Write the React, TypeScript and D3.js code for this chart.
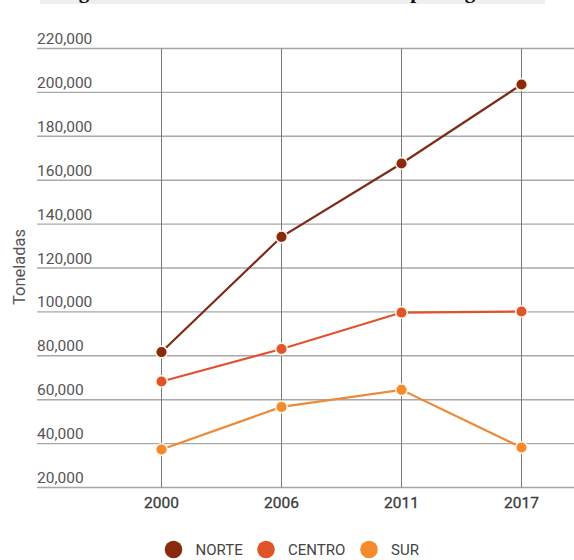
import React from "react";
import * as d3 from "d3";

const years = ["2000", "2006", "2011", "2017"];
const norte = [81700, 134200, 167600, 203600];
const centro = [68300, 83100, 99700, 100200];
const sur = [37300, 56700, 64500, 38200];
const seriesNames = ["NORTE", "CENTRO", "SUR"];
const yTicks = [20000, 40000, 60000, 80000, 100000, 120000, 140000, 160000, 180000, 200000, 220000];
const titleText = "Figura 1. Producción de cosecha anual por región";

const W = 574;
const H = 560;

export default function App() {
  const x = d3.scalePoint<string>().domain(years).range([161.5, 521.5]);
  const y = d3.scaleLinear().domain([20000, 220000]).range([487.5, 48.5]);
  const colors = ["#8a2a0c", "#e0542a", "#f38a2c"];
  const lineColors = ["#7d2b17", "#e2512c", "#ec8a38"];
  const data = [norte, centro, sur];
  const line = d3
    .line<number>()
    .x((_, i) => x(years[i]) as number)
    .y((d) => y(d));
  const fmt = d3.format(",");
  const font = "Roboto, 'Noto Sans', sans-serif";
  const legendX = [173.5, 266, 369];

  return (
    <svg
      width={W}
      height={H}
      style={{ position: "absolute", left: 0, top: 0, background: "#fff" }}
    >
      <rect x={40} y={0} width={505} height={4} fill="#efefef" />
      <text
        x={60}
        y={-2.5}
        fontFamily="'Liberation Serif', 'DejaVu Serif', serif"
        fontWeight="bold"
        fontSize={21}
        fill="#111"
      >
        {titleText}
      </text>

      {yTicks.map((t) => (
        <g key={t}>
          <line x1={37} x2={W} y1={y(t)} y2={y(t)} stroke="#a8a8a8" strokeWidth={1.4} />
          <text x={37} y={y(t) - 4.5} fontFamily={font} fontSize={15.5} fill="#555">
            {fmt(t)}
          </text>
        </g>
      ))}
      {years.map((yr) => (
        <g key={yr}>
          <line
            x1={x(yr)}
            x2={x(yr)}
            y1={y(220000)}
            y2={y(20000)}
            stroke="#7a7a7a"
            strokeWidth={1}
          />
          <text
            x={x(yr)}
            y={508}
            textAnchor="middle"
            fontFamily={font}
            fontSize={15.5}
            fill="#3a3a3a"
            stroke="#3a3a3a"
            strokeWidth={0.3}
          >
            {yr}
          </text>
        </g>
      ))}

      <text
        transform={`translate(25,267) rotate(-90)`}
        textAnchor="middle"
        fontFamily={font}
        fontSize={16.5}
        fill="#555"
      >
        Toneladas
      </text>

      {data.map((s, si) => (
        <g key={si}>
          <path d={line(s) || ""} fill="none" stroke={lineColors[si]} strokeWidth={2.2} />
          {s.map((v, i) => (
            <circle
              key={i}
              cx={x(years[i])}
              cy={y(v)}
              r={5.8}
              fill={colors[si]}
              stroke="#fff6ea"
              strokeWidth={1.5}
            />
          ))}
        </g>
      ))}

      {seriesNames.map((n, i) => (
        <g key={n}>
          <circle cx={legendX[i]} cy={549.5} r={8.8} fill={colors[i]} />
          <text
            x={legendX[i] + 22}
            y={555}
            fontFamily={font}
            fontSize={15}
            fill="#444"
          >
            {n}
          </text>
        </g>
      ))}
    </svg>
  );
}
